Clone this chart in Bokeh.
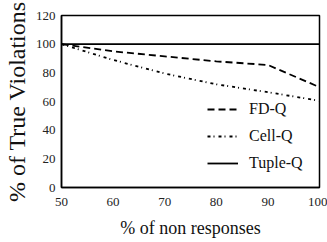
from bokeh.plotting import figure
from bokeh.models import Range1d, FixedTicker, Legend, LegendItem
from bokeh.embed import file_html
from bokeh.resources import INLINE

x = [50, 60, 70, 80, 90, 100]
fd_q = [100, 95, 91.5, 88, 85.5, 70]
cell_q = [100, 89, 79.5, 72, 66.5, 60.5]
tuple_q = [100, 100, 100, 100, 100, 100]

x_ticks = [50, 60, 70, 80, 90, 100]
y_ticks = [0, 20, 40, 60, 80, 100, 120]

FONT = "Liberation Serif"

p = figure(width=327, height=242, output_backend="svg", toolbar_location=None,
           x_range=Range1d(50, 100), y_range=Range1d(0, 120),
           min_border_left=61, min_border_right=8, min_border_top=15, min_border_bottom=55)

r_fd = p.line(x, fd_q, line_color="black", line_width=1.8, line_dash="7 4")
r_cell = p.line(x, cell_q, line_color="black", line_width=1.8, line_dash="3 3 1 4")
r_tuple = p.line(x, tuple_q, line_color="black", line_width=1.8)

p.xgrid.visible = False
p.ygrid.visible = False
p.outline_line_color = "black"
p.outline_line_width = 1.5
p.background_fill_color = "white"
p.border_fill_color = "white"

for ax in (p.xaxis[0], p.yaxis[0]):
    ax.axis_line_color = "black"
    ax.axis_line_width = 1.5
    ax.major_tick_out = 0
    ax.major_tick_in = 0
    ax.minor_tick_out = 0
    ax.minor_tick_in = 0
    ax.major_label_text_font = FONT
    ax.major_label_text_font_size = "13px"
    ax.major_label_text_color = "#222222"
    ax.axis_label_text_font = FONT
    ax.axis_label_text_font_style = "normal"
    ax.axis_label_text_color = "#111111"

p.xaxis.ticker = FixedTicker(ticks=x_ticks)
p.yaxis.ticker = FixedTicker(ticks=y_ticks)
p.xaxis.major_label_standoff = 10
p.yaxis.major_label_standoff = 6
p.xaxis.axis_label = "% of non responses"
p.yaxis.axis_label = "% of True Violations"
p.xaxis.axis_label_text_font_size = "18px"
p.yaxis.axis_label_text_font_size = "24px"
p.xaxis.axis_label_standoff = 9
p.yaxis.axis_label_standoff = 3

legend = Legend(items=[
    LegendItem(label="FD-Q", renderers=[r_fd]),
    LegendItem(label="Cell-Q", renderers=[r_cell]),
    LegendItem(label="Tuple-Q", renderers=[r_tuple]),
], location=(146, 14))
legend.padding = 0
legend.margin = 0
legend.spacing = 7
legend.glyph_width = 31
legend.glyph_height = 20
legend.label_standoff = 11
legend.label_text_font = FONT
legend.label_text_font_size = "16px"
legend.label_text_color = "#111111"
legend.border_line_alpha = 0
legend.background_fill_alpha = 0
p.add_layout(legend)

open("out.html", "w").write(file_html(p, INLINE))
